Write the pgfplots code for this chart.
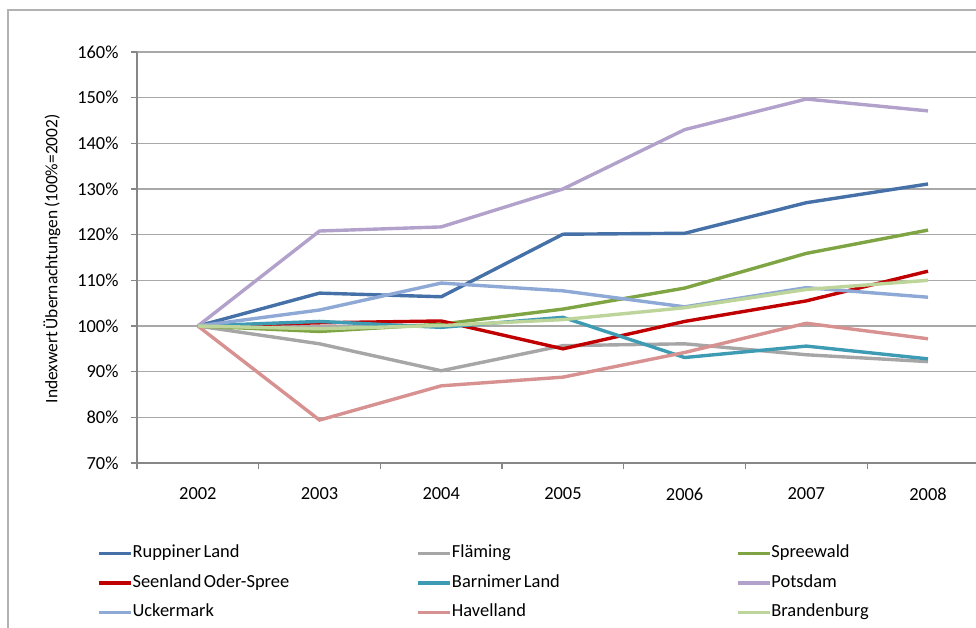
\documentclass[border=0pt]{standalone}
\usepackage{fontspec}
\setmainfont{Carlito}[WordSpace=0.6]
\usepackage{pgfplots}
\pgfplotsset{compat=1.18}

\definecolor{cRupp}{HTML}{4571A8}
\definecolor{cFlae}{HTML}{A6A6A6}
\definecolor{cSpree}{HTML}{7FA443}
\definecolor{cSeen}{HTML}{C00000}
\definecolor{cBarn}{HTML}{3D9BB3}
\definecolor{cPots}{HTML}{B2A1CB}
\definecolor{cUck}{HTML}{8EA9D5}
\definecolor{cHav}{HTML}{D79190}
\definecolor{cBrb}{HTML}{BDD49B}
\definecolor{gridgray}{HTML}{A8A8A8}
\definecolor{axisgray}{HTML}{878787}

\newcommand{\lgd}[1]{\makebox[281bp][l]{#1}}

\begin{document}
\begin{tikzpicture}
\path[use as bounding box] (0bp,0bp) rectangle (976bp,628bp);
% outer chart frame (cropped at right and bottom)
\draw[gray!60, line width=1.3bp] (8bp,-5bp) -- (8bp,618bp) -- (990bp,618bp);
\begin{axis}[
    at={(137bp,165bp)}, anchor=south west,
    scale only axis,
    width=839bp, height=411bp,
    xmin=-0.5, xmax=6.3944,
    ymin=70, ymax=160,
    axis x line*=bottom, axis y line*=left,
    axis line style={axisgray, line width=1.6bp, -},
    tick align=outside,
    major tick length=6bp,
    tick style={axisgray, line width=1.3bp},
    xtick={-0.5,0.5,...,6.5},
    xticklabels={2002,2003,2004,2005,2006,2007,2008,{}},
    xticklabel style={xshift=60.85bp, anchor=center, yshift=-25bp},
    ytick={70,80,...,160},
    yticklabel={\pgfmathprintnumber{\tick}\%},
    yticklabel style={xshift=-9bp},
    ymajorgrids,
    major grid style={gridgray, line width=1.4bp},
    /pgf/number format/assume math mode=true,
    ticklabel style={font=\fontsize{18.5}{21}\selectfont},
    ylabel={Indexwert Übernachtungen (100\%=2002)},
    ylabel style={at={(axis description cs:-0.1013,0.497)}, anchor=center, font=\fontsize{17.5}{20}\selectfont},
    every axis plot/.append style={line width=3.4bp, mark=none},
    legend columns=3,
    legend cell align=left,
    legend image code/.code={\draw[#1] (0bp,0bp) -- (32bp,0bp);},
    legend style={at={(axis description cs:-0.0477,-0.292)}, anchor=west,
        draw=none, fill=none, inner sep=0pt,
        font=\fontsize{18.5}{21}\selectfont,
        nodes={inner xsep=0pt, inner ysep=0pt, text height=12bp, text depth=4bp},
        /tikz/every even column/.append style={column sep=3bp},
        /tikz/every odd column/.append style={column sep=0bp},
        row sep=13.5bp},
]
\addplot[cRupp] coordinates {(0,100) (1,107.2) (2,106.4) (3,120.1) (4,120.3) (5,127.0) (6,131.1)};
\addlegendentry{\lgd{Ruppiner Land}}
\addplot[cFlae] coordinates {(0,100) (1,96.1) (2,90.2) (3,95.7) (4,96.1) (5,93.7) (6,92.2)};
\addlegendentry{\lgd{Fläming}}
\addplot[cSpree] coordinates {(0,100) (1,98.8) (2,100.4) (3,103.7) (4,108.3) (5,115.9) (6,121.0)};
\addlegendentry{\lgd{Spreewald}}
\addplot[cSeen] coordinates {(0,100) (1,100.7) (2,101.1) (3,95.0) (4,101.0) (5,105.5) (6,112.0)};
\addlegendentry{\lgd{Seenland Oder-Spree}}
\addplot[cBarn] coordinates {(0,100) (1,101.0) (2,99.7) (3,101.9) (4,93.1) (5,95.6) (6,92.8)};
\addlegendentry{\lgd{Barnimer Land}}
\addplot[cPots] coordinates {(0,100) (1,120.8) (2,121.7) (3,130.0) (4,143.0) (5,149.7) (6,147.1)};
\addlegendentry{\lgd{Potsdam}}
\addplot[cUck] coordinates {(0,100) (1,103.5) (2,109.4) (3,107.7) (4,104.2) (5,108.4) (6,106.3)};
\addlegendentry{\lgd{Uckermark}}
\addplot[cHav] coordinates {(0,100) (1,79.4) (2,86.9) (3,88.8) (4,94.2) (5,100.6) (6,97.2)};
\addlegendentry{\lgd{Havelland}}
\addplot[cBrb] coordinates {(0,100) (1,99.4) (2,100.1) (3,101.4) (4,104.0) (5,108.0) (6,110.0)};
\addlegendentry{\lgd{Brandenburg}}
\end{axis}
\end{tikzpicture}
\end{document}
